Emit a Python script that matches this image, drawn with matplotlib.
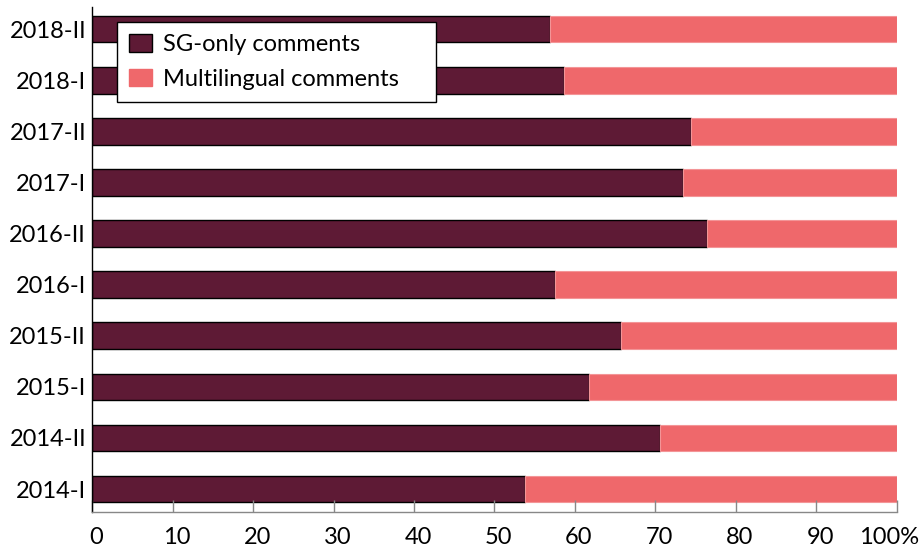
import matplotlib
matplotlib.use("Agg")
import matplotlib.pyplot as plt
import matplotlib.transforms as mtransforms
from matplotlib.patches import Patch

periods = ["2014-I", "2014-II", "2015-I", "2015-II", "2016-I",
           "2016-II", "2017-I", "2017-II", "2018-I", "2018-II"]
sg_only = [53.8, 70.6, 61.8, 65.7, 57.5, 76.4, 73.4, 74.4, 58.7, 56.9]
multilingual = [100 - v for v in sg_only]
xticks = [0, 10, 20, 30, 40, 50, 60, 70, 80, 90, 100]
xticklabels = ["0", "10", "20", "30", "40", "50", "60", "70", "80", "90", "100%"]

dark = "#5E1A35"
pink = "#EF686B"

plt.rcParams['font.family'] = ['Lato', 'DejaVu Sans']

fig = plt.figure(figsize=(9.21, 5.53), dpi=100)
ax = fig.add_axes([0.1002, 0.0741, 0.8734, 0.9129])

y = list(range(len(periods)))
ax.barh(y, sg_only, height=0.52, color=dark, edgecolor="black", linewidth=1.0)
ax.barh(y, multilingual, left=sg_only, height=0.52, color=pink,
        edgecolor="#F39597", linewidth=0.8)

ax.set_xlim(0, 100)
ax.set_ylim(-0.45, 9.43)
ax.set_yticks(y)
ax.set_yticklabels(periods, fontsize=17)
ax.set_xticks(xticks)
ax.set_xticklabels(xticklabels, fontsize=17)
ax.tick_params(axis='y', length=0, pad=4.5)
ax.tick_params(axis='x', direction='in', length=9, width=1, color="#888888", pad=11)

# small horizontal offsets of x labels as in the reference
for i, lbl in enumerate(ax.get_xticklabels()):
    dx = 4 / 100 if i < len(xticks) - 1 else -8 / 100
    lbl.set_transform(lbl.get_transform() +
                      mtransforms.ScaledTranslation(dx, 0, fig.dpi_scale_trans))

for s in ["top", "right"]:
    ax.spines[s].set_visible(False)
ax.spines["left"].set_color("black")
ax.spines["bottom"].set_color("#888888")
ax.spines["left"].set_linewidth(1.0)
ax.spines["bottom"].set_linewidth(1.0)

handles = [Patch(facecolor=dark, edgecolor="black", label="SG-only comments"),
           Patch(facecolor=pink, edgecolor=pink, label="Multilingual comments")]
leg = ax.legend(handles=handles, loc="upper left",
                bbox_to_anchor=(0.0307, 0.810, 0.3966, 0.160), mode="expand",
                fontsize=17, frameon=True, fancybox=False, framealpha=1,
                edgecolor="black", borderpad=0.5, handlelength=1.0,
                handleheight=0.75, handletextpad=0.45, labelspacing=0.58,
                borderaxespad=0.0)
leg.get_frame().set_linewidth(1.0)

fig.savefig("out.png", dpi=100)
